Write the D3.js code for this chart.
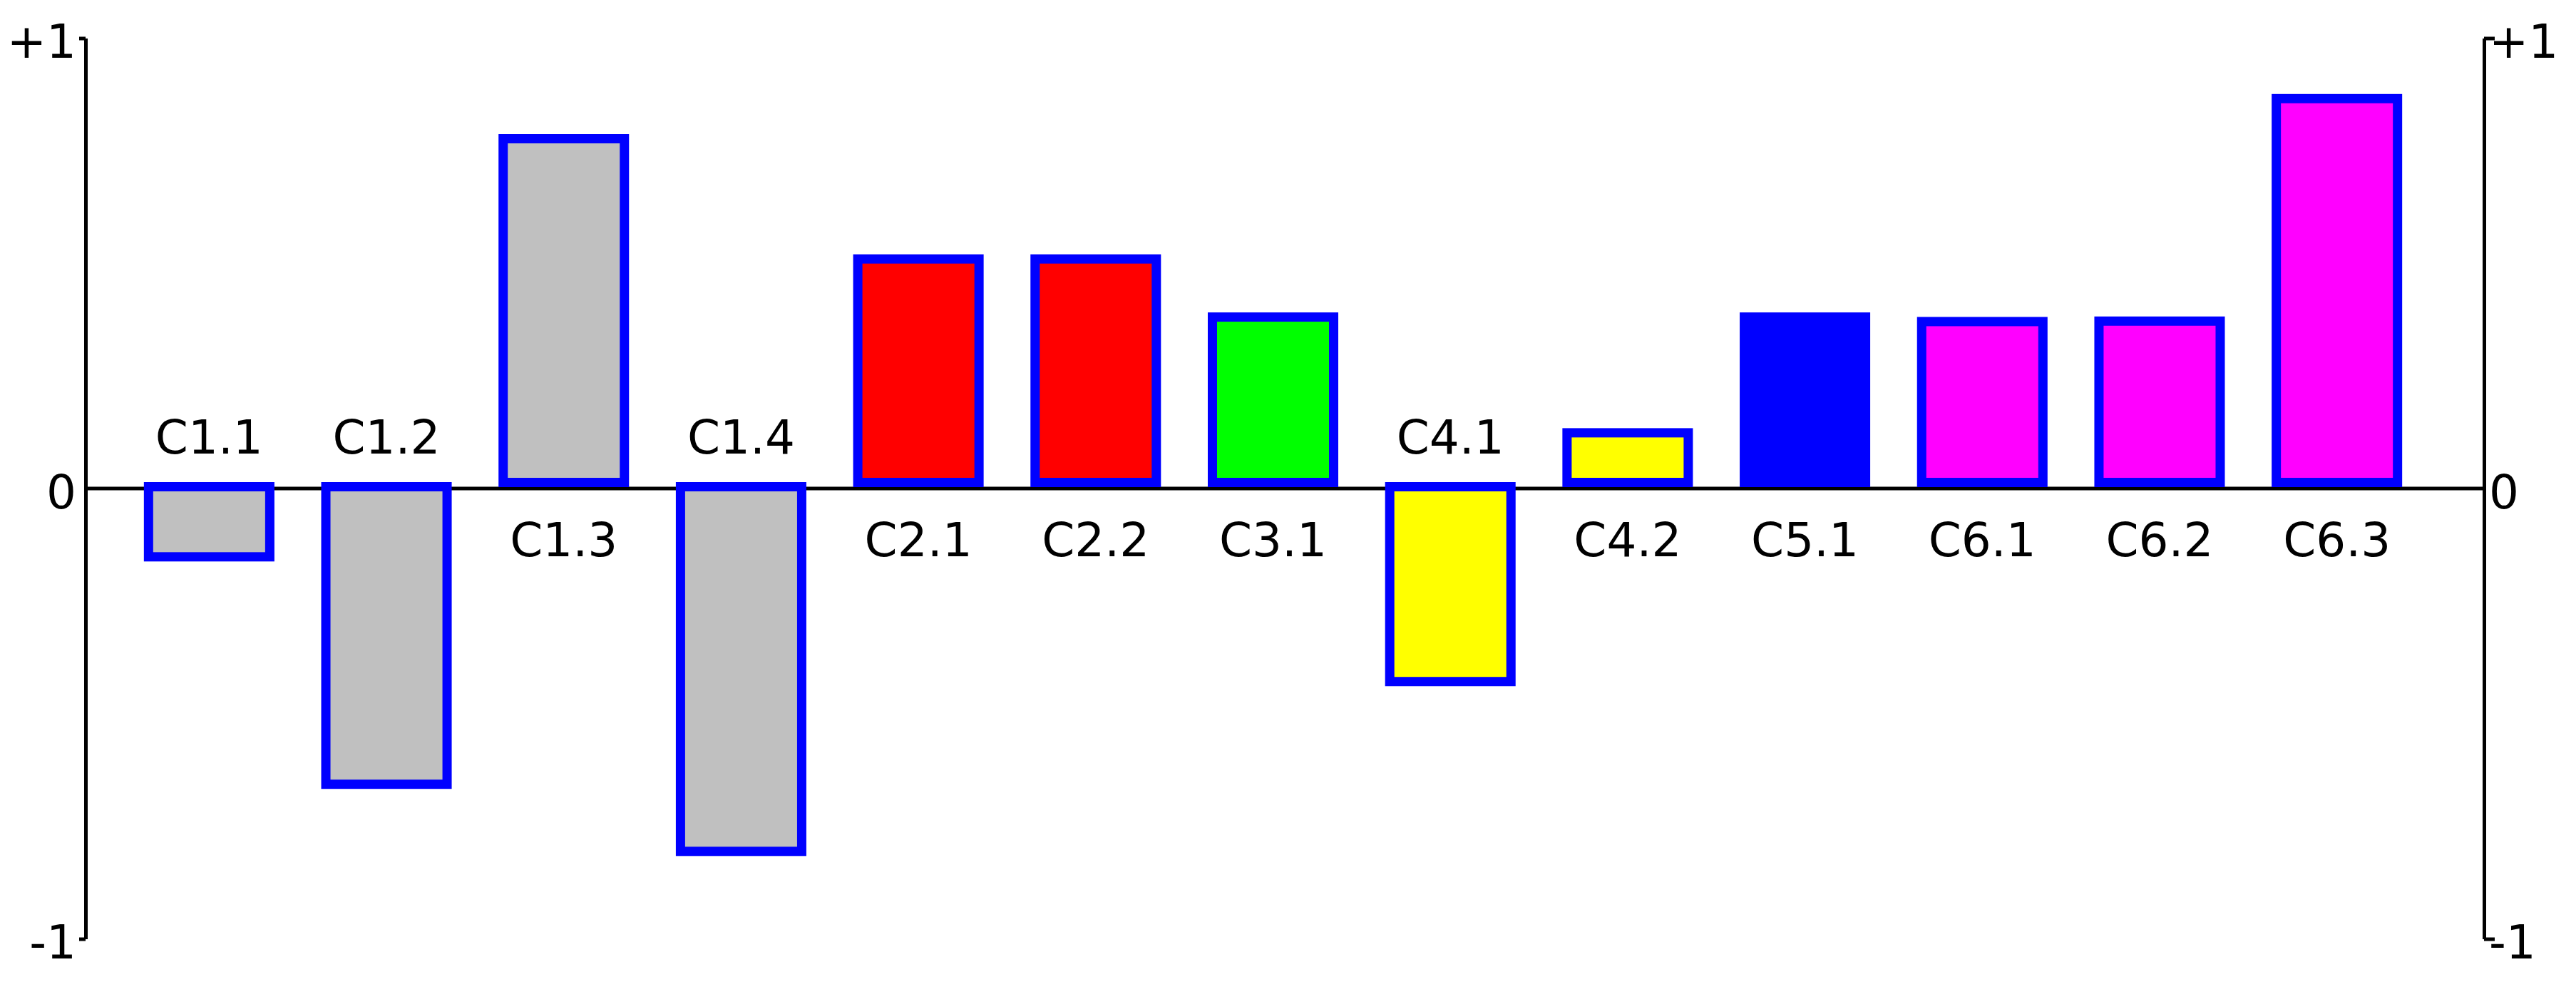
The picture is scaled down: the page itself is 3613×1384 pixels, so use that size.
<!DOCTYPE html>
<html>
<head>
<meta charset="utf-8">
<script src="https://cdn.jsdelivr.net/npm/d3@7"></script>
<style>
  body { margin: 0; background: #fff; }
  text { font-family: "DejaVu Sans", Verdana, sans-serif; }
</style>
</head>
<body>
<script>
var categories = ["C1.1", "C1.2", "C1.3", "C1.4", "C2.1", "C2.2", "C3.1", "C4.1", "C4.2", "C5.1", "C6.1", "C6.2", "C6.3"];
var values = [-0.162, -0.667, 0.787, -0.816, 0.52, 0.52, 0.391, -0.439, 0.134, 0.391, 0.381, 0.382, 0.876];
var fills = ["#c0c0c0", "#c0c0c0", "#c0c0c0", "#c0c0c0", "#ff0000", "#ff0000", "#00ff00", "#ffff00", "#ffff00", "#0000ff", "#ff00ff", "#ff00ff", "#ff00ff"];
var tickValues = [1, 0, -1];
var tickLabels = ["+1", "0", "-1"];

var W = 3613, H = 1384;
var fontSize = 66;

var svg = d3.select("body").append("svg").attr("width", W).attr("height", H);

var x = d3.scaleBand().domain(categories).range([169, 3402]).paddingInner(0.264).paddingOuter(0.132);
var y = d3.scaleLinear().domain([-1, 1]).range([1316.5, 53.5]);

var leftX = 120, rightX = 3484;

// zero line
svg.append("line")
      .attr("x1", leftX).attr("x2", rightX)
      .attr("y1", y(0)).attr("y2", y(0))
      .attr("stroke", "black").attr("stroke-width", 5);

// bars, border drawn inside the bar box
var sw = 13;
svg.selectAll("rect.bar")
      .data(values)
      .enter().append("rect")
      .attr("class", "bar")
      .attr("x", function (d, i) { return x(categories[i]) + sw / 2; })
      .attr("width", x.bandwidth() - sw)
      .attr("y", function (d) { return d >= 0 ? y(d) + sw / 2 : y(0) - 9 + sw / 2; })
      .attr("height", function (d) { return d >= 0 ? y(0) - 2 - y(d) - sw : y(d) - y(0) + 9 - sw; })
      .attr("fill", function (d, i) { return fills[i]; })
      .attr("stroke", "#0000ff")
      .attr("stroke-width", sw);

// category labels: below zero for positive bars, above for negative
svg.selectAll("text.cat")
      .data(values)
      .enter().append("text")
      .attr("class", "cat")
      .attr("x", function (d, i) { return x(categories[i]) + x.bandwidth() / 2; })
      .attr("y", function (d) { return d >= 0 ? y(0) + 95 : y(0) - 49; })
      .attr("text-anchor", "middle")
      .attr("font-size", fontSize)
      .attr("fill", "black")
      .text(function (d, i) { return categories[i]; });

// axes
var axisL = d3.axisLeft(y).tickValues(tickValues)
      .tickFormat(function (d, i) { return tickLabels[i]; })
      .tickSizeInner(9).tickSizeOuter(0).tickPadding(4);
var axisR = d3.axisRight(y).tickValues(tickValues)
      .tickFormat(function (d, i) { return tickLabels[i]; })
      .tickSizeInner(15).tickSizeOuter(0).tickPadding(4);

var gL = svg.append("g").attr("transform", "translate(" + leftX + ",0)").call(axisL);
var gR = svg.append("g").attr("transform", "translate(" + rightX + ",0)").call(axisR);

[gL, gR].forEach(function (g) {
  g.select(".domain").attr("stroke", "black").attr("stroke-width", 5);
  g.selectAll(".tick line").attr("stroke", "black").attr("stroke-width", 5)
    .attr("display", function (d) { return d === 0 ? "none" : null; });
  g.selectAll(".tick text")
    .attr("font-size", fontSize)
    .attr("font-family", "DejaVu Sans, Verdana, sans-serif")
    .attr("fill", "black")
    .attr("dy", "0.41em");
});
gL.selectAll(".tick text").attr("x", -13);
gR.selectAll(".tick text").attr("x", 7);
</script>
</body>
</html>
